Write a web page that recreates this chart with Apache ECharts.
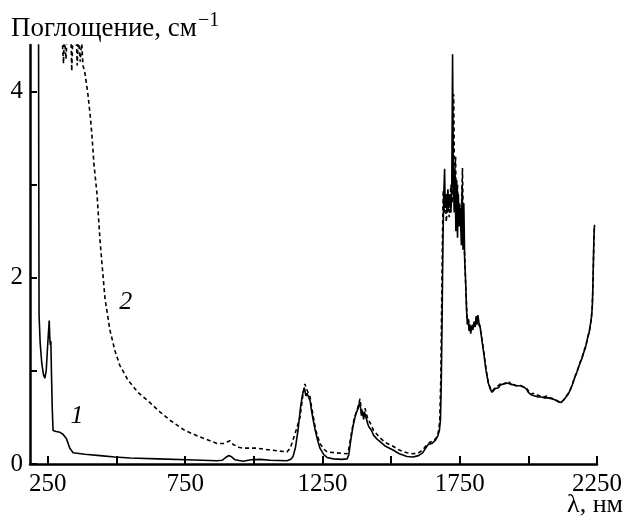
<!DOCTYPE html>
<html>
<head>
<meta charset="utf-8">
<script src="https://cdn.jsdelivr.net/npm/echarts@6/dist/echarts.min.js"></script>
<style>
  html, body { margin: 0; padding: 0; background: #fff; }
  #chart { width: 626px; height: 520px; }
</style>
</head>
<body>
<div id="chart"></div>
<script>
// Absorption spectra, λ in nm, absorption in cm^-1
const xTickValues = [250, 500, 750, 1000, 1250, 1500, 1750, 2000, 2250];
const xLabelValues = [250, 750, 1250, 1750, 2250];
const yTickValues = [0, 1, 2, 3, 4];
const yLabelValues = [0, 2, 4];

// curve 1 (solid)
const wl1 = [212, 216, 217, 218, 222, 228, 234, 239, 244, 249, 252, 255, 257, 259, 261, 263, 266, 269, 280, 294,
  305, 318, 330, 342, 385, 440, 494, 550, 650, 757, 866, 885, 898, 908, 918, 932, 961, 990, 1023, 1060,
  1121, 1135, 1143, 1152, 1161, 1170, 1176, 1181, 1184, 1187, 1190, 1194, 1198, 1205, 1210, 1216, 1224, 1232, 1241, 1255,
  1267, 1290, 1320, 1340, 1346, 1353, 1361, 1370, 1380, 1385, 1389, 1392, 1396, 1400, 1404, 1409, 1414, 1419, 1424, 1429,
  1436, 1448, 1460, 1480, 1507, 1530, 1558, 1580, 1600, 1615, 1628, 1635, 1648, 1660, 1670, 1676, 1680, 1683, 1686, 1689,
  1692, 1695, 1697, 1700, 1703, 1707, 1710, 1714, 1718, 1721, 1724, 1727, 1730, 1733, 1736, 1739, 1742, 1745, 1748, 1752,
  1756, 1759, 1762, 1765, 1768, 1771, 1775, 1778, 1781, 1784, 1787, 1790, 1794, 1798, 1802, 1806, 1810, 1813, 1816, 1820,
  1824, 1830, 1838, 1846, 1854, 1862, 1868, 1874, 1880, 1886, 1892, 1898, 1904, 1910, 1916, 1922, 1928, 1934, 1940, 1946,
  1952, 1958, 1964, 1970, 1976, 1982, 1988, 1994, 2000, 2006, 2012, 2018, 2024, 2030, 2036, 2042, 2048, 2054, 2060, 2066,
  2072, 2078, 2084, 2090, 2096, 2102, 2108, 2114, 2120, 2126, 2132, 2138, 2145, 2152, 2160, 2168, 2176, 2184, 2190, 2196,
  2202, 2208, 2214, 2218, 2222, 2226, 2230, 2233, 2235, 2237, 2239, 2241];
const abs1 = [6.0, 4.8, 3.0, 1.6, 1.3, 1.08, 0.96, 0.92, 1.0, 1.26, 1.4, 1.54, 1.36, 1.28, 1.32, 1.0, 0.6, 0.36, 0.35, 0.34,
  0.32, 0.27, 0.17, 0.12, 0.105, 0.09, 0.075, 0.065, 0.055, 0.045, 0.035, 0.04, 0.07, 0.09, 0.08, 0.045, 0.03, 0.045, 0.05, 0.04,
  0.035, 0.05, 0.08, 0.18, 0.36, 0.6, 0.72, 0.79, 0.82, 0.8, 0.73, 0.76, 0.74, 0.68, 0.58, 0.48, 0.36, 0.26, 0.17, 0.1,
  0.07, 0.055, 0.05, 0.055, 0.1, 0.25, 0.4, 0.52, 0.6, 0.66, 0.6, 0.52, 0.56, 0.48, 0.55, 0.5, 0.44, 0.4, 0.42, 0.36,
  0.31, 0.27, 0.24, 0.19, 0.15, 0.11, 0.08, 0.075, 0.09, 0.12, 0.18, 0.21, 0.22, 0.25, 0.3, 0.36, 0.48, 0.9, 1.6, 2.4,
  2.9, 3.17, 2.75, 2.9, 2.7, 2.95, 2.75, 2.9, 2.7, 2.95, 4.4, 3.0, 2.7, 3.15, 2.5, 3.05, 2.43, 2.9, 2.55, 2.75,
  2.35, 3.0, 2.3, 2.8, 2.2, 2.0, 1.65, 1.5, 1.56, 1.43, 1.5, 1.4, 1.48, 1.44, 1.52, 1.47, 1.58, 1.5, 1.6, 1.52,
  1.48, 1.35, 1.18, 1.0, 0.87, 0.8, 0.77, 0.78, 0.81, 0.83, 0.82, 0.85, 0.84, 0.86, 0.84, 0.87, 0.85, 0.86, 0.84, 0.85,
  0.83, 0.84, 0.82, 0.84, 0.82, 0.83, 0.81, 0.8, 0.77, 0.76, 0.74, 0.75, 0.73, 0.74, 0.72, 0.73, 0.72, 0.73, 0.71, 0.72,
  0.71, 0.72, 0.7, 0.71, 0.69, 0.68, 0.67, 0.65, 0.66, 0.67, 0.7, 0.72, 0.75, 0.79, 0.85, 0.92, 0.98, 1.05, 1.1, 1.14,
  1.2, 1.25, 1.33, 1.38, 1.42, 1.5, 1.58, 1.7, 1.9, 2.2, 2.45, 2.57];

// curve 2 (dashed)
const wl2 = [290, 304, 307, 310, 316, 320, 334, 337, 341, 354, 357, 361, 368, 373, 378, 385, 396, 404, 410, 418,
  429, 440, 458, 476, 494, 512, 542, 578, 614, 658, 695, 749, 804, 866, 890, 905, 913, 925, 945, 961,
  1012, 1060, 1121,
  1133, 1143, 1155, 1168, 1178, 1186, 1190, 1193, 1198, 1205, 1210, 1216, 1226, 1241, 1255, 1267, 1300, 1340, 1346, 1355,
  1365, 1378, 1387, 1391, 1395, 1400, 1405, 1410, 1416, 1422, 1428, 1436, 1460, 1480, 1507, 1530, 1558, 1580, 1600, 1615,
  1628, 1640, 1655, 1665, 1672, 1677, 1681, 1685, 1688, 1690, 1693, 1697, 1701, 1706, 1712, 1718, 1723, 1726, 1728, 1731,
  1735, 1738, 1742, 1746, 1750, 1755, 1760, 1764, 1768, 1772, 1776, 1779, 1782, 1786, 1790, 1794, 1798, 1803, 1807, 1811,
  1815, 1819, 1824, 1830, 1838, 1846, 1854, 1862, 1868, 1875, 1882, 1890, 1898, 1906, 1914, 1922, 1930, 1938, 1946, 1954,
  1962, 1970, 1978, 1986, 1994, 2002, 2010, 2018, 2026, 2034, 2042, 2050, 2058, 2066, 2074, 2082, 2090, 2098, 2106, 2114,
  2122, 2130, 2138, 2146, 2154, 2162, 2170, 2178, 2186, 2194, 2202, 2210, 2216, 2222, 2228, 2232, 2235, 2238, 2240];
const abs2 = [6.0, 4.46, 4.3, 4.6, 4.35, 4.6, 4.6, 4.22, 4.6, 4.55, 4.28, 4.6, 4.32, 4.55, 4.28, 4.2, 3.97, 3.75, 3.55, 3.22,
  2.9, 2.4, 1.78, 1.44, 1.22, 1.06, 0.9, 0.77, 0.68, 0.56, 0.47, 0.36, 0.29, 0.22, 0.22, 0.24, 0.25, 0.21, 0.18, 0.17,
  0.17, 0.15, 0.13,
  0.17, 0.26, 0.37, 0.5, 0.72, 0.86, 0.88, 0.8, 0.78, 0.72, 0.62, 0.52, 0.36, 0.22, 0.16, 0.13, 0.12, 0.11, 0.16, 0.32,
  0.48, 0.6, 0.7, 0.6, 0.58, 0.52, 0.6, 0.54, 0.48, 0.45, 0.42, 0.36, 0.28, 0.23, 0.19, 0.15, 0.12, 0.11, 0.12, 0.15,
  0.2, 0.23, 0.25, 0.28, 0.34, 0.45, 0.9, 1.9, 2.6, 2.94, 2.7, 2.9, 2.6, 2.8, 2.65, 3.0, 2.8, 3.3, 3.97, 3.08,
  3.3, 2.7, 3.0, 2.6, 2.8, 2.5, 3.18, 2.4, 2.25, 1.9, 1.62, 1.5, 1.55, 1.45, 1.42, 1.5, 1.46, 1.53, 1.48, 1.6,
  1.55, 1.5, 1.47, 1.36, 1.2, 1.02, 0.88, 0.81, 0.78, 0.8, 0.83, 0.84, 0.86, 0.85, 0.87, 0.86, 0.88, 0.85, 0.86, 0.84,
  0.84, 0.85, 0.83, 0.82, 0.81, 0.78, 0.75, 0.76, 0.74, 0.74, 0.73, 0.73, 0.72, 0.73, 0.71, 0.71, 0.7, 0.69, 0.68, 0.66,
  0.67, 0.69, 0.73, 0.76, 0.81, 0.87, 0.94, 1.0, 1.07, 1.13, 1.21, 1.28, 1.35, 1.43, 1.53, 1.65, 1.88, 2.3, 2.55];

// curve tags, placed in data coordinates
const tag1 = { text: '1', wl: 356, abs: 0.51 };
const tag2 = { text: '2', wl: 534, abs: 1.74 };

const serif = 'Liberation Serif';
const pairs = (xs, ys) => xs.map((x, i) => [x, ys[i]]);

const tagPoint = t => ({
  coord: [t.wl, t.abs],
  symbol: 'rect',
  symbolSize: 1,
  itemStyle: { color: 'rgba(0,0,0,0)' },
  label: {
    show: true, position: 'inside', formatter: t.text,
    fontFamily: serif, fontStyle: 'italic', fontSize: 26, color: '#000'
  }
});

const chart = echarts.init(document.getElementById('chart'), null, { renderer: 'canvas' });
chart.setOption({
  animation: false,
  backgroundColor: '#fff',
  grid: { left: 30, right: 29, top: 45, bottom: 56, containLabel: false },
  xAxis: {
    type: 'value', min: 185, max: 2250,
    splitLine: { show: false },
    axisLine: { show: true, lineStyle: { color: '#000', width: 2.5 } },
    axisTick: { show: true, inside: true, length: 8, lineStyle: { color: '#000', width: 2 }, customValues: xTickValues },
    axisLabel: {
      show: true, margin: 8, color: '#000', fontFamily: serif, fontSize: 25,
      customValues: xLabelValues, formatter: v => String(v)
    }
  },
  yAxis: {
    type: 'value', min: 0, max: 4.5,
    splitLine: { show: false },
    axisLine: { show: true, lineStyle: { color: '#000', width: 2.5 } },
    axisTick: { show: true, inside: true, length: 7, lineStyle: { color: '#000', width: 2 }, customValues: yTickValues },
    axisLabel: {
      show: true, margin: 7, color: '#000', fontFamily: serif, fontSize: 25,
      customValues: yLabelValues, formatter: v => String(v)
    }
  },
  graphic: [
    {
      type: 'text', left: 11, top: 11,
      style: {
        text: '{a|Поглощение, см}{s|−1}',
        fill: '#000',
        rich: {
          a: { fontFamily: serif, fontSize: 27, lineHeight: 31, verticalAlign: 'bottom' },
          s: { fontFamily: serif, fontSize: 20, lineHeight: 31, verticalAlign: 'top', padding: [0, 0, 0, 1] }
        }
      }
    },
    {
      type: 'text', right: 3, bottom: 2,
      style: { text: 'λ, нм', fill: '#000', fontFamily: serif, fontSize: 26 }
    }
  ],
  series: [
    {
      type: 'line', data: pairs(wl1, abs1), showSymbol: false, clip: true,
      lineStyle: { color: '#000', width: 1.6 },
      markPoint: { silent: true, data: [tagPoint(tag1)] }
    },
    {
      type: 'line', data: pairs(wl2, abs2), showSymbol: false, clip: true,
      lineStyle: { color: '#000', width: 1.6, type: [4, 3] },
      markPoint: { silent: true, data: [tagPoint(tag2)] }
    }
  ]
});
</script>
</body>
</html>
